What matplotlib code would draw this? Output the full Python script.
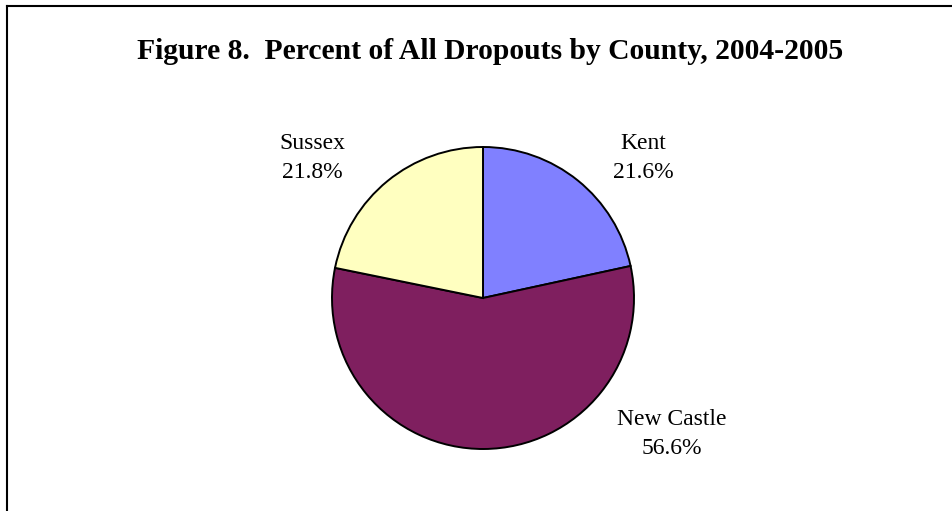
import matplotlib
matplotlib.use("Agg")
import matplotlib.pyplot as plt
from matplotlib.lines import Line2D

counties = ["Kent", "New Castle", "Sussex"]
percents = [21.6, 56.6, 21.8]
colors = ["#8080FF", "#7F1F5F", "#FFFFC0"]
# label anchor points in pie units (radius = 1)
label_pos = [(1.06, 0.925), (1.25, -0.90), (-1.13, 0.93)]

W, H = 953, 511
fig = plt.figure(figsize=(W / 100, H / 100), dpi=100)
plt.rcParams["font.family"] = ["Liberation Serif", "DejaVu Serif"]

# frame lines (top and left, as in the cropped page)
fig.add_artist(Line2D([7 / W, 1.0], [1 - 6 / H, 1 - 6 / H], color="black", lw=1.5))
fig.add_artist(Line2D([7 / W, 7 / W], [0.0, 1 - 6 / H], color="black", lw=1.5))

fig.text(490 / W, 1 - 51 / H, "Figure 8.  Percent of All Dropouts by County, 2004-2005",
         ha="center", va="center", fontsize=21.3, fontweight="bold")

cx, cy, r = 483, 298, 151
ax = fig.add_axes([(cx - r) / W, 1 - (cy + r) / H, 2 * r / W, 2 * r / H])
ax.pie(percents, colors=colors, startangle=90, counterclock=False,
       wedgeprops=dict(edgecolor="black", linewidth=1.4))
ax.set_xlim(-1, 1)
ax.set_ylim(-1, 1)
ax.set_aspect("equal")
ax.axis("off")

for name, pct, (x, y) in zip(counties, percents, label_pos):
    ax.text(x, y, f"{name}\n{pct:.1f}%", ha="center", va="center",
            fontsize=17, linespacing=1.5, clip_on=False)

fig.savefig("out.png", dpi=100)
